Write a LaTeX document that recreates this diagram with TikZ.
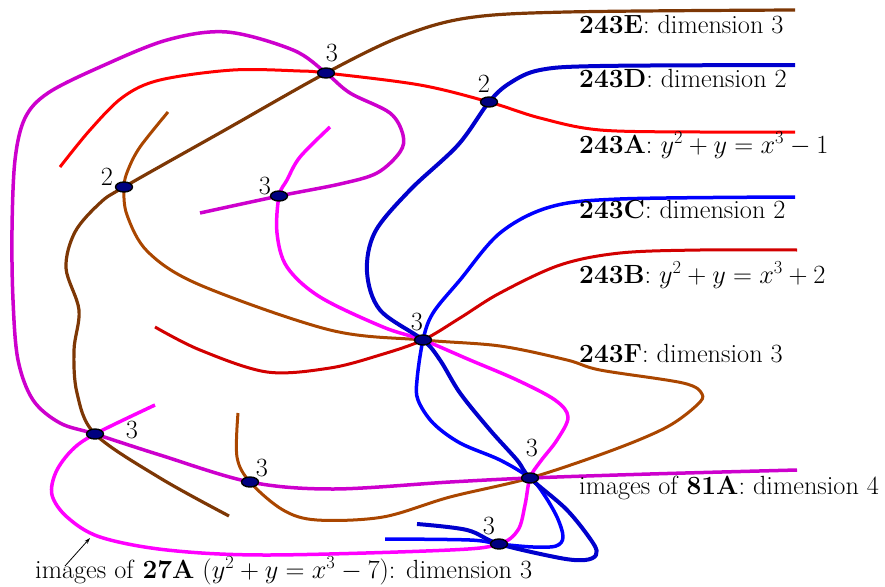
\RequirePackage{fix-cm}
\documentclass[tikz,border=0pt]{standalone}
\usetikzlibrary{shapes.geometric,arrows.meta}
\definecolor{brownE}{RGB}{125,55,5}
\definecolor{brownF}{RGB}{170,70,0}
\definecolor{redA}{RGB}{255,0,0}
\definecolor{redB}{RGB}{210,0,0}
\definecolor{blueD}{RGB}{0,0,205}
\definecolor{blueC}{RGB}{0,0,255}
\definecolor{purp}{RGB}{205,0,205}
\definecolor{magn}{RGB}{255,0,255}
\definecolor{navy}{RGB}{0,0,128}
\newcommand{\bigfnt}{\fontsize{26.3}{31}\selectfont}
\begin{document}
\begin{tikzpicture}[x=1pt,y=-1pt,
  crv/.style={line width=#1, line join=round},
  dotnode/.style={ellipse, draw=black, fill=navy, line width=1.4pt, minimum width=17pt, minimum height=10pt, inner sep=0pt},
  num/.style={font=\bigfnt, inner sep=0pt},
  lab/.style={font=\bigfnt, anchor=base west, inner sep=0pt}]
\useasboundingbox (0,0) rectangle (885,586);
\coordinate (c1) at (326,73);
\coordinate (c2) at (489,102);
\coordinate (c3) at (124,187);
\coordinate (c4) at (279,196);
\coordinate (c5) at (423,340);
\coordinate (c6) at (95,434);
\coordinate (c7) at (250,482);
\coordinate (c8) at (530,478);
\coordinate (c9) at (499,544);
% 243E dark brown
\draw[crv=3.2,brownE] plot[smooth,tension=0.55] coordinates {(229,516) (160,478) (c6) (77,393) (74,350) (79,310) (66,268) (75,232) (100,203) (c3) (225,130) (c1) (400,37) (467,18) (567,12) (795,10)};
% 243A red
\draw[crv=3,redA] plot[smooth,tension=0.55] coordinates {(60,167) (90,130) (123,97) (160,80) (233,70) (300,71) (c1) (420,85) (c2) (540,118) (600,130) (700,132) (795,132)};
% 243B dark red
\draw[crv=3,redB] plot[smooth,tension=0.55] coordinates {(155,327) (200,350) (267,372) (330,368) (380,355) (c5) (460,318) (500,293) (560,265) (620,253) (700,250) (797,250)};
% 243F brown
\draw[crv=3,brownF] plot[smooth,tension=0.55] coordinates {(168,112) (140,147) (128,170) (c3) (127,215) (148,252) (200,285) (330,330) (c5) (500,346) (567,360) (600,370) (683,383) (702,394) (697,405) (667,427) (613,450) (c8) (450,497) (383,517) (317,520) (283,510) (c7) (237,457) (238,413)};
% purple (81A)
\draw[crv=3.5,purp] plot[smooth,tension=0.55] coordinates {(200,213) (c4) (340,184) (377,173) (400,152) (403,135) (390,113) (350,93) (c1) (293,50) (227,32) (167,40) (100,67) (48,93) (25,118) (15,160) (12,230) (13,300) (18,360) (33,400) (60,423) (c6) (160,455) (c7) (333,489) (450,482) (c8) (650,474) (797,470)};
% magenta (27A)
\draw[crv=3.5,magn] plot[smooth,tension=0.55] coordinates {(330,127) (300,157) (287,180) (c4) (277,233) (287,267) (320,297) (383,327) (c5) (470,360) (517,380) (555,400) (568,417) (557,440) (540,462) (c8) (525,505) (518,530) (c9) (450,550) (267,555) (167,550) (100,537) (67,517) (52,495) (56,472) (72,450) (c6) (155,405)};
% 243C blue
\draw[crv=3.5,blueC] plot[smooth,tension=0.55] coordinates {(795,197) (620,199) (550,207) (500,233) (460,280) (433,313) (c5) (417,380) (418,400) (433,423) (460,443) (500,460) (c8) (543,493) (557,517) (563,537) (556,546) (533,547) (c9) (470,540) (385,539)};
% 243D blue
\draw[crv=4,blueD] plot[smooth,tension=0.55] coordinates {(795,65) (600,66) (540,70) (510,83) (c2) (458,145) (410,190) (375,232) (367,272) (380,310) (c5) (440,360) (460,393) (490,430) (517,460) (c8) (567,510) (593,543) (596,555) (585,560) (560,558) (c9) (467,530) (417,524)};
% nodes
\foreach \c in {c1,c2,c3,c4,c5,c6,c7,c8,c9}
  \node[dotnode] (n\c) at (\c) {};
\node[num] (l1) at (332,53) {3};
\node[num] (l2) at (484,84) {2};
\node[num] (l3) at (107,177) {2};
\node[num] (l4) at (265,186) {3};
\node[num] (l5) at (417,322) {3};
\node[num] (l6) at (132,430) {3};
\node[num] (l7) at (262,468) {3};
\node[num] (l8) at (532,448) {3};
\node[num] (l9) at (489,526) {3};
% labels
\node[lab] (tE) at (579,34) {\textbf{243E}: dimension 3};
\node[lab] (tD) at (579,87) {\textbf{243D}: dimension 2};
\node[lab] (tA) at (579,153) {\textbf{243A}: $y^2+y=x^3-1$};
\node[lab] (tC) at (579,218) {\textbf{243C}: dimension 2};
\node[lab] (tB) at (579,283) {\textbf{243B}: $y^2+y=x^3+2$};
\node[lab] (tF) at (579,362) {\textbf{243F}: dimension 3};
\node[lab] (t81) at (579,494) {images of \textbf{81A}: dimension 4};
\node[lab] (t27) at (35,578) {images of \textbf{27A} ($y^2+y=x^3-7$): dimension 3};
\coordinate (arrtail) at (65,566);
\coordinate (arrtip) at (90,538);
\draw[line width=0.8pt,-{Stealth[length=6pt,width=4pt]}] (arrtail) -- (arrtip);
\end{tikzpicture}
\end{document}
